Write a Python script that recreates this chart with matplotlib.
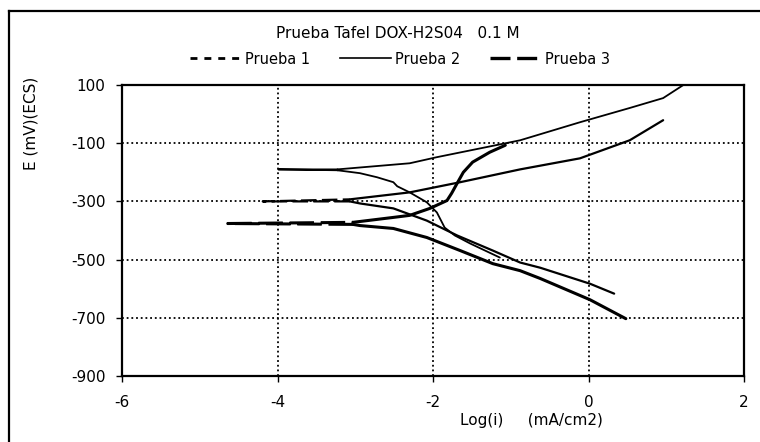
# Curvas de Tafel: DOX en H2SO4 0.1 M, tres pruebas
import numpy as np
import matplotlib.pyplot as plt
from matplotlib.lines import Line2D

# Prueba 1: de la rama catódica al mínimo (Ecorr) y luego la rama anódica
p1_log_i = [0.33, 0.02, -0.62, -0.88, -1.23, -1.69, -2.08, -2.51, -2.94, -3.07,
            -4.19,
            -3.07, -2.30, -1.65, -0.88, -0.11, 0.53, 0.96]
p1_e = [-617, -583, -528, -510, -469, -417, -366, -324, -307, -300,
        -300,
        -293, -269, -234, -190, -152, -90, -21]

# Prueba 2
p2_log_i = [-1.14, -1.52, -1.72, -1.85, -1.95, -2.08, -2.30, -2.46, -2.51, -2.72, -2.94, -3.23,
            -3.99,
            -3.23, -2.30, -1.95, -0.88, -0.11, 0.53, 0.96, 1.22]
p2_e = [-493, -445, -417, -390, -338, -303, -269, -248, -234, -217, -203, -193,
        -190,
        -190, -169, -148, -90, -28, 21, 55, 100]

# Prueba 3
p3_log_i = [0.48, 0.02, -0.62, -0.88, -1.23, -1.65, -2.08, -2.51, -2.94, -3.03,
            -4.64,
            -3.03, -2.51, -2.30, -2.04, -1.82, -1.76, -1.69, -1.61, -1.49, -1.27, -1.07]
p3_e = [-703, -638, -565, -538, -514, -469, -424, -393, -383, -379,
        -376,
        -372, -355, -348, -324, -297, -272, -238, -200, -165, -131, -107]

x_ticks = [-6, -4, -2, 0, 2]
y_ticks = [100, -100, -300, -500, -700, -900]

plt.rcParams['font.family'] = ['DejaVu Sans']

fig = plt.figure(figsize=(7.6, 4.42), dpi=100)
ax = fig.add_axes([122 / 760, 1 - 376 / 442, 622 / 760, 291 / 442])


def draw(x, y, lw, dash):
    """Tramo disperso cerca de Ecorr con guiones, el resto continuo (como Excel)."""
    x = np.asarray(x)
    y = np.asarray(y)
    k = int(np.argmin(x))
    ax.plot(x[:k], y[:k], color='black', lw=lw, solid_capstyle='round')
    ax.plot(x[k + 1:], y[k + 1:], color='black', lw=lw, solid_capstyle='round')
    ls = '-' if dash is None else (0, dash)
    ax.plot(x[k - 1:k + 2], y[k - 1:k + 2], color='black', lw=lw, linestyle=ls)


draw(p1_log_i, p1_e, 1.6, (7, 2.4))
draw(p2_log_i, p2_e, 1.3, None)
draw(p3_log_i, p3_e, 2.2, (8, 2.2))

ax.set_xlim(-6, 2)
ax.set_ylim(-900, 100)
ax.set_xticks(x_ticks)
ax.set_yticks(y_ticks)
ax.set_xticklabels([str(v) for v in x_ticks])
ax.set_yticklabels([str(v) for v in y_ticks])
ax.tick_params(direction='out', length=4, width=1, labelsize=11, color='black')
ax.tick_params(axis='x', pad=10)
ax.tick_params(axis='y', pad=8)
for s in ax.spines.values():
    s.set_linewidth(1.6)
    s.set_color('black')

for v in [-4, -2, 0]:
    ax.axvline(v, color='black', lw=1.3, linestyle=(0, (1, 1.6)), zorder=0)
for v in [-100, -300, -500, -700]:
    ax.axhline(v, color='black', lw=1.3, linestyle=(0, (1, 1.6)), zorder=0)

ax.set_ylabel('')
fig.text(31 / 760, 1 - 123 / 442, 'E (mV)(ECS)', rotation=90, ha='center', va='center', fontsize=11)
fig.text(460 / 760, 1 - 421 / 442, 'Log(i)     (mA/cm2)', ha='left', va='center', fontsize=11)
fig.text(398 / 760, 1 - 33 / 442, 'Prueba Tafel DOX-H2S04   0.1 M', ha='center', va='center', fontsize=11)

handles = [
    Line2D([], [], color='black', lw=2.0, linestyle=(0, (2.5, 2.5))),
    Line2D([], [], color='black', lw=1.2),
    Line2D([], [], color='black', lw=2.4, linestyle=(0, (6, 2))),
]
fig.legend(handles, ['Prueba 1', 'Prueba 2', 'Prueba 3'], loc='center',
           bbox_to_anchor=(400 / 760, 1 - 59 / 442), ncol=3, frameon=False,
           fontsize=10.5, handlelength=3.5, handletextpad=0.3, columnspacing=2.0)

# marco exterior (recortado a derecha y abajo)
fig.add_artist(Line2D([9 / 760, 9 / 760], [0, 1 - 11 / 442], color='black', lw=1.6))
fig.add_artist(Line2D([9 / 760, 1], [1 - 11 / 442, 1 - 11 / 442], color='black', lw=1.6))

fig.savefig('out.png', dpi=100)
